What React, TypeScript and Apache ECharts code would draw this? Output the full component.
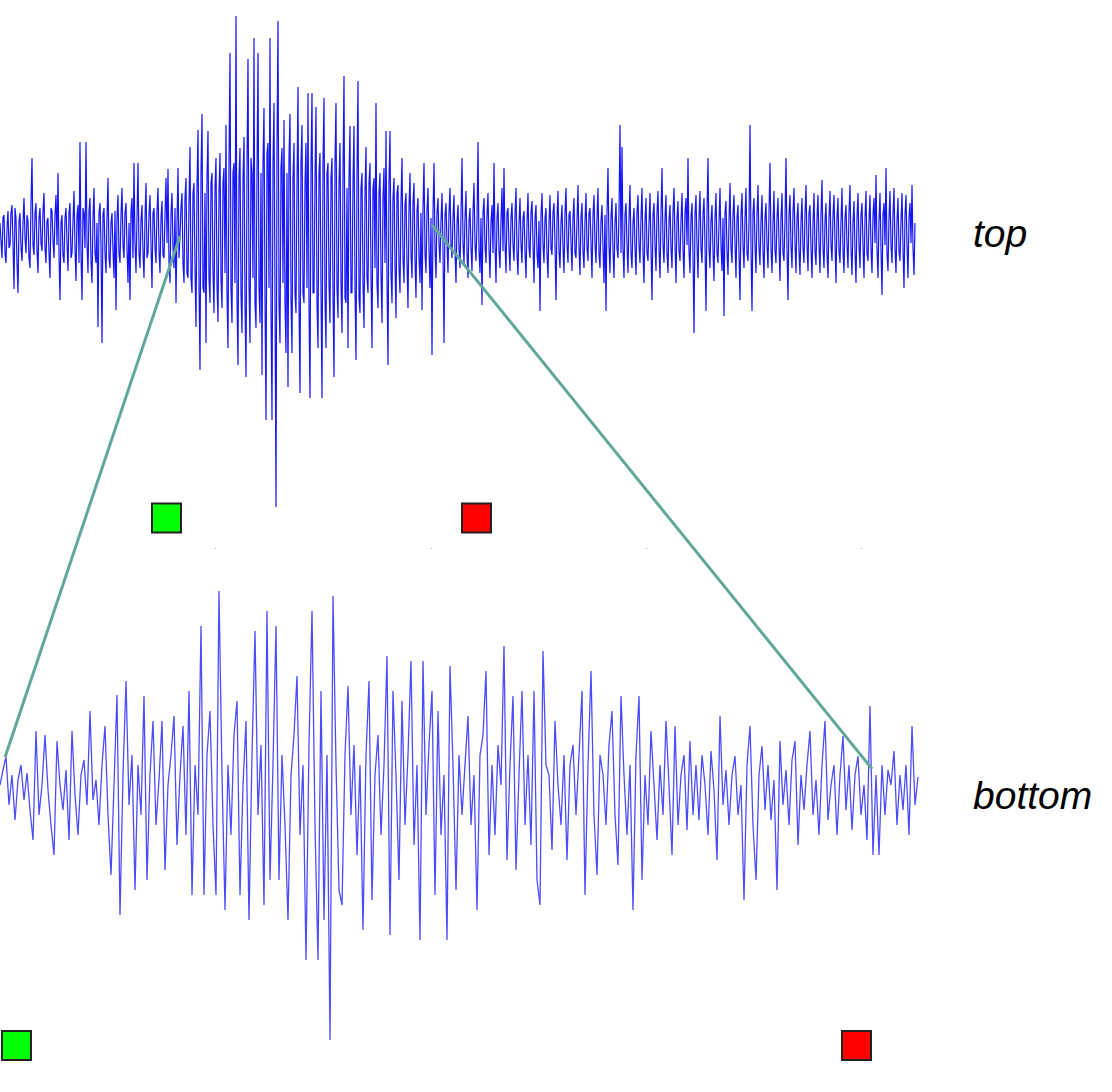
import React, { useEffect, useRef } from "react";
import * as echarts from "echarts";

// Overview signal (top panel), one value per pixel column, positive = up
const topSignal = [
  10, -8, -25, 15, 18, -20, -30, 5, 22, -15, -12, 20, 28, -10, -56, 25, 15, -30, -60, 12,
  20, -15, -28, 10, 35, -5, -20, 18, 12, -25, -35, 30, 75, -12, -22, 20, 30, -18, -40, 15,
  25, -10, -18, 22, 40, -15, -30, 12, 15, -20, -45, 25, 22, -8, -25, 18, 38, -12, 60, -20,
  -67, 10, 18, -22, -30, 15, 25, -10, -38, 20, 30, -25, -20, 12, 42, -15, -48, 18, 28, -30,
  91, -20, -67, 25, 20, -15, 91, -10, -40, 22, 35, -28, -50, 15, 45, -20, -30, 10, -94, 20,
  30, -12, -110, 18, 25, -20, -40, 15, 55, -25, -35, 10, 20, -18, -45, 22, -77, 15, 38, -20,
  -30, 18, 45, -12, -25, 20, 30, -15, -50, 10, -67, 22, 35, -25, 70, -10, -40, 15, 70, -20,
  -35, 12, 28, -20, -45, 15, 50, -25, -20, 18, 38, -12, -55, 20, 25, -15, -30, 22, 45, -18,
  -40, 15, 32, -22, -25, 18, 55, -10, 64, -30, -50, 20, 40, -15, -35, 25, -70, 10, 65, -25,
  -3, 25, 40, -30, -50, 35, 55, -40, -45, 30, 86, -45, -60, 40, 50, -35, -94, 45, 103, -50,
  -137, 60, 119, -55, -60, 40, -110, 55, 102, -45, -70, 50, 60, -40, -80, 45, 75, -50, -89, 40,
  80, -45, -75, 50, 65, -40, 108, -60, -115, 70, 180, -55, -90, 60, 70, -50, 217, -65, -132, 55,
  85, -60, -100, 55, 96, -70, -144, 65, 174, -50, -110, 75, 60, -45, 195, -70, -95, 60, 180, -55,
  -90, 60, -142, 70, 125, -65, -187, 80, 90, -55, 195, -75, -187, 70, 130, -60, -274, 85, 212, -70,
  -110, 65, 85, -50, 113, -70, -120, 60, -154, 75, 119, -65, -120, 55, 90, -60, -80, 50, 146, -70,
  -160, 70, 108, -60, -70, 50, 90, -55, 140, -75, -165, 65, 140, -60, -60, 55, 126, -70, -115, 60,
  80, -55, -165, 70, 135, -65, -115, 60, 70, -50, -90, 55, 75, -60, -144, 70, 130, -55, -85, 50,
  90, -50, -100, 60, 157, -65, -70, 45, -115, 55, 107, -60, -60, 50, 107, -55, -127, 60, 152, -65,
  -80, 45, 60, -50, -95, 40, 86, -45, -60, 50, 70, -40, -115, 45, 55, -35, 130, -50, -75, 40,
  60, -40, -90, 35, 65, -30, 102, -45, -132, 50, 102, -40, -70, 35, 55, -30, -85, 40, 48, -35,
  -60, 30, 75, -25, -50, 28, 40, -30, -75, 25, 60, -22, -45, 30, 50, -28, -65, 22, 35, -25,
  -50, 20, -77, 25, 70, -20, -40, 22, 45, -18, -55, 15, -122, 20,
  70, -15, -45, 20, 35, -10,
  -30, 12, 40, -15, -110, 18, 30, -10, -40, 20, 45, -12, -25, 15, 38, -18, -50, 10, 28, -15,
  -35, 18, 75, -10, -30, 15, 42, -20, -45, 12, 25, -15, -38, 20, 50, -12, -28, 10, 91, -18,
  -40, 15, -72, 20, 35, -12, -30, 18, 40, -15, -45, 10, 28, -20, 70, -10, -50, 15, 30, -18,
  -35, 12, 45, -18, 65, -10, -40, 20, 25, -15, -38, 15, 30, -12, -28, 18, 45, -20, -42, 10,
  35, -12, -30, 15, 22, -18, -45, 10, 40, -15, -25, 20, 32, -10, -50, 15, 28, -20, -35, 12,
  -78, 18, 40, -12, -30, 15, 25, -20, -45, 10, 38, -15, -22, 20, 30, -12, -67, 15, 42, -18,
  -35, 10, 28, -15, -40, 20, 45, -12, -30, 18, 22, -10, -38, 15, 35, -20, -25, 12, 48, -15,
  -42, 15, 30, -18, -35, 12, 40, -15, -28, 20, 25, -10, -45, 18, 38, -12, -30, 15, 45, -20,
  -35, 12, 28, -15, -50, 18, -78, 20, 65, -12, -40, 15, 35, -18, -45, 10, 30, -15, -25, 20,
  108, -20, 86, -15, -45, 18, 30, -12, -40, 15, 48, -20, -35, 10, 25, -15, -42, 20, 38, -12,
  -30, 15, 45, -18, -50, 12, 35, -20, -28, 10, 40, -15, -67, 18, 30, -12, -38, 20, 42, -15,
  -45, 18, 65, -12, -30, 15, 38, -20, -40, 12, 28, -15, -35, 20, 45, -10, -50, 15, 32, -18,
  -28, 12, 40, -15, -45, 20, 35, -12, 75, -18, -40, 15, 30, -20, -100, 18, 38, -12, -45, 15,
  42, -15, -30, 18, 35, -12, -78, 20, 75, -15, -35, 12, 28, -18, -48, 15, 40, -20, -30, 10,
  45, -12, -38, 15, -83, 20, 32, -18, -42, 12, 50, -15, -30, 18, 38, -10, -45, 15, 28, -20,
  -67, 18, 40, -12, -35, 15, 45, -20, -28, 10, 108, -15, -78, 20, 35, -12, -40, 18, 48, -15,
  -32, 12, 38, -18, -45, 15, 30, -12, -35, 20, 70, -15, -40, 10, 42, -18, -30, 15, 35, -12,
  -48, 15, 40, -20, -28, 12, 75, -15, -67, 18, 38, -12, -35, 20, 45, -10, -40, 15, 30, -18,
  -42, 12, 35, -15, -30, 18, 48, -12, -38, 20, 28, -15, -45, 10, 40, -18, -32, 15, 38, -12,
  -40, 18, 53, -15, -35, 12, 30, -20, -45, 15, 42, -12, -28, 18, 38, -10, -50, 15, 35, -18,
  -30, 12, 45, -18, -40, 15, 28, -12, -35, 20, 48, -15, -42, 10, 32, -18, -50, 15, 40, -12,
  -35, 18, 30, -12, -45, 15, 42, -20, -28, 12, 38, -15, -40, 18, 35, -10, 58, -15, -45, 12,
  40, -15, -62, 18, 30, -12, 65, -20, -38, 15, 42, -12, -30, 18, 45, -15, -40, 12, 35, -18,
  -28, 12, 40, -15, -55, 18, 38, -12, -45, 15, 30, -10, 48, -15, -42, 10,
];

// Zoomed signal (bottom panel), one value every 3 pixel columns
const bottomSignal = [
  10, 25, 38, -10, 20, -25, 15, 30, -5, 22,
  -15, -45, 64, -20, 10, 60, 5, -30, -60, 54,
  10, -15, 25, -45, 64, 0, -40, 20, 35, -10,
  84, -5, 15, -30, 30, 69, -20, -80, 10, 100,
  -120, 20, 114, -10, 40, -95, 30, -20, 99, -85,
  20, 74, -30, 15, 74, -75, 10, 40, 79, -50,
  20, 69, -40, 104, -100, 30, -20, 169, -100, 40,
  84, -30, -100, 204, 20, -115, 30, -40, 60, 94,
  -100, 10, 74, -125, 40, 164, -20, 50, -110, 184,
  -85, 30, 169, -85, 40, -30, -125, 20, 60, 119,
  -40, 30, -165, 50, 184, -30, -165, 104, -125, 40,
  -245, 199, 30, -95, -110, 40, 109, -20, 50, -60,
  30, -135, 40, 114, -105, 20, 60, -40, 30, 139,
  -140, 104, 20, -85, 94, -30, 40, 134, -50, 30,
  -145, 134, -20, 50, 104, -100, 84, -40, 20, -145,
  129, 30, -95, 40, -20, 30, 79, -30, 20, -115,
  40, 60, 124, -60, 30, -40, 50, 10, 149, -65,
  30, 99, -75, 20, 104, -30, 40, -50, 104, -85,
  -110, 144, 30, 20, -55, 74, 10, -30, 40, -65,
  30, 50, -20, 40, 104, -100, 30, 124, -20, -80,
  40, 20, -30, 50, 84, -20, -70, 99, 20, -40,
  30, -115, 40, 99, -85, 20, -30, 64, 10, -45,
  30, -20, 74, 10, -60, 69, -30, 20, 40, -35,
  54, -20, 30, -25, 40, 10, -40, 44, 5, -65,
  79, -10, 25, -30, 20, 39, -20, 10, -105, 30,
  69, -30, -85, 20, 49, -15, 30, -25, 15, -95,
  54, -10, 25, -30, 35, 54, -50, 20, -15, 30,
  64, -20, 15, -40, 30, 74, -25, 10, 30, -40,
  20, 59, -15, 30, -35, 20, 39, -20, 10, -45,
  89, -60, 20, -60, 30, -20, 25, 10, 44, -30,
  20, -15, 30, -40, 69, -10, 18,
];

const panelLabels = ["top", "bottom"];
const handleColors = ["#00ff00", "#ff0000"];
const topHandleX = [166.5, 476.5];
const topHandleY = -285;
const bottomHandleX = [5.5, 285.5];
const bottomHandleY = -250.5;
// zoom window connectors: [sample, value] in each panel
const connectorTop = [
  [180, -3],
  [432, 8],
];
const connectorBottom = [
  [1.7, 38],
  [290.7, 26],
];
const rulerTicks = ["0", "1", "2", "3", "4", "5"];

export default function App() {
  const ref = useRef<HTMLDivElement | null>(null);

  useEffect(() => {
    if (!ref.current) return;
    const chart = echarts.init(ref.current, undefined, { renderer: "svg" });

    const option: any = {
      animation: false,
      grid: [
        { left: 0, top: 0, width: 915, height: 540 },
        { left: 0, top: 585, width: 920, height: 480 },
        { left: 0, top: 547, width: 1077, height: 1 },
      ],
      xAxis: [
        { type: "value", gridIndex: 0, min: 0, max: 915, show: false },
        { type: "value", gridIndex: 1, min: 0, max: 920 / 3, show: false },
        {
          type: "category",
          gridIndex: 2,
          data: rulerTicks,
          boundaryGap: false,
          axisLine: { show: false },
          axisLabel: { show: false },
          axisTick: {
            show: true,
            length: 1,
            interval: (index: number) => index > 0 && index < 5,
            lineStyle: { color: "#aaaaaa", width: 1 },
          },
          splitLine: { show: false },
        },
      ],
      yAxis: [
        { type: "value", gridIndex: 0, min: -307, max: 233, show: false },
        { type: "value", gridIndex: 1, min: -270, max: 210, show: false },
        { type: "value", gridIndex: 2, min: 0, max: 1, show: false },
      ],
      series: [
        {
          type: "line",
          xAxisIndex: 0,
          yAxisIndex: 0,
          data: topSignal.map((v, i) => [i, v]),
          symbol: "none",
          clip: false,
          silent: true,
          lineStyle: { color: "rgba(0,0,255,0.92)", width: 1.2 },
        },
        {
          type: "line",
          xAxisIndex: 1,
          yAxisIndex: 1,
          data: bottomSignal.map((v, i) => [i, v]),
          symbol: "none",
          clip: false,
          silent: true,
          lineStyle: { color: "rgba(0,0,255,0.7)", width: 1.3 },
        },
        {
          type: "scatter",
          xAxisIndex: 0,
          yAxisIndex: 0,
          symbol: "rect",
          symbolSize: 29,
          clip: false,
          silent: true,
          itemStyle: { borderColor: "#222222", borderWidth: 2, opacity: 1 },
          data: topHandleX.map((x, k) => ({
            value: [x, topHandleY],
            itemStyle: { color: handleColors[k], opacity: 1 },
          })),
        },
        {
          type: "scatter",
          xAxisIndex: 1,
          yAxisIndex: 1,
          symbol: "rect",
          symbolSize: 29,
          clip: false,
          silent: true,
          itemStyle: { borderColor: "#222222", borderWidth: 2, opacity: 1 },
          data: bottomHandleX.map((x, k) => ({
            value: [x, bottomHandleY],
            itemStyle: { color: handleColors[k], opacity: 1 },
          })),
        },
      ],
    };
    chart.setOption(option);

    const lines = connectorTop.map((pt, k) => {
      const a = chart.convertToPixel({ xAxisIndex: 0, yAxisIndex: 0 }, pt) as number[];
      const b = chart.convertToPixel(
        { xAxisIndex: 1, yAxisIndex: 1 },
        connectorBottom[k]
      ) as number[];
      return {
        type: "line",
        shape: { x1: a[0], y1: a[1], x2: b[0], y2: b[1] },
        style: { stroke: "#62a89a", lineWidth: 3 },
        silent: true,
        z: 100,
      };
    });

    const labelY = [
      chart.convertToPixel({ xAxisIndex: 0, yAxisIndex: 0 }, [0, 0]) as number[],
      chart.convertToPixel({ xAxisIndex: 1, yAxisIndex: 1 }, [0, 0]) as number[],
    ];
    const texts = panelLabels.map((t, k) => ({
      type: "text",
      x: 973,
      y: labelY[k][1],
      silent: true,
      style: {
        text: t,
        font: 'italic 39px "Liberation Sans", Arial, sans-serif',
        fill: "#000000",
        align: "left",
        verticalAlign: "middle",
      },
    }));

    chart.setOption({ graphic: [...lines, ...texts] });

    return () => chart.dispose();
  }, []);

  return (
    <div
      ref={ref}
      style={{ position: "absolute", left: 0, top: 0, width: 1112, height: 1092 }}
    />
  );
}
